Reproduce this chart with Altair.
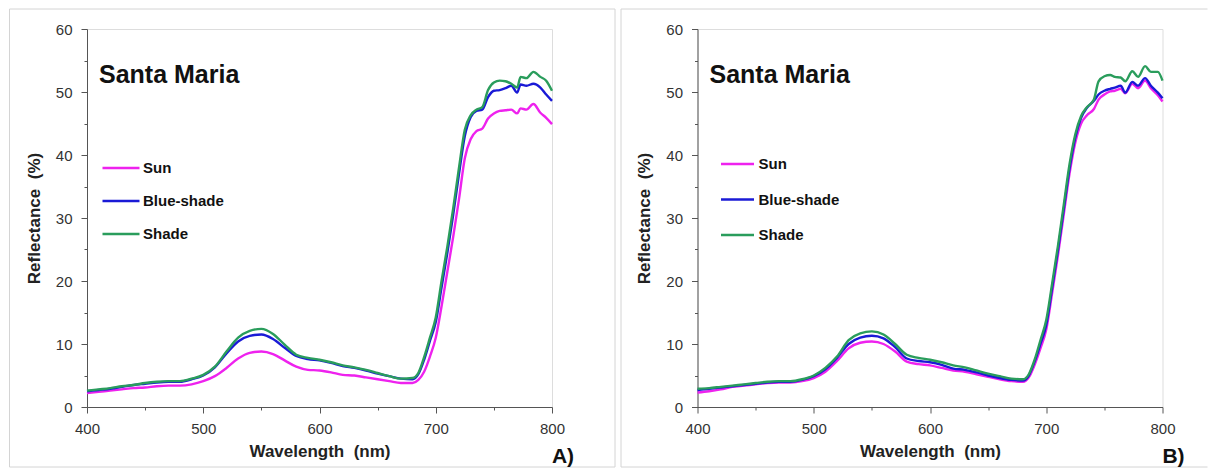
import altair as alt
import pandas as pd

FONT = "Liberation Sans"

series_names = ["Sun", "Blue-shade", "Shade"]
series_colors = ["#ee22ee", "#1a1ad6", "#2a9d5c"]

# ---- Panel A ----
wl_a = [400, 410, 420, 430, 440, 450, 460, 470, 480, 490, 500, 510, 520, 530, 540, 550,
        560, 570, 580, 590, 600, 610, 620, 630, 640, 650, 660, 670, 680, 685, 690, 695,
        700, 705, 710, 715, 720, 725, 730, 735, 740, 745, 750, 755, 760, 765, 770, 773,
        778, 784, 790, 795, 800]
sun_a = [2.2, 2.4, 2.6, 2.8, 3.0, 3.1, 3.3, 3.4, 3.4, 3.6, 4.1, 4.9, 6.2, 7.7, 8.6, 8.8,
         8.4, 7.4, 6.4, 5.9, 5.8, 5.5, 5.1, 5.0, 4.7, 4.4, 4.1, 3.8, 3.8, 4.3, 5.6, 8.0,
         11.0, 16.0, 21.5, 27.0, 33.0, 39.5, 42.5, 43.8, 44.2, 45.8, 46.6, 47.0, 47.1, 47.2, 46.6, 47.4,
         47.2, 48.1, 46.7, 45.9, 44.9]
blue_a = [2.5, 2.7, 2.9, 3.2, 3.5, 3.7, 3.9, 4.0, 4.0, 4.4, 5.0, 6.3, 8.5, 10.4, 11.3, 11.5,
          10.8, 9.4, 8.1, 7.6, 7.4, 7.0, 6.5, 6.2, 5.8, 5.3, 4.9, 4.5, 4.4, 5.2, 7.5, 10.5,
          13.5, 19.0, 24.5, 30.5, 37.0, 43.0, 46.0, 47.0, 47.2, 49.2, 50.2, 50.3, 50.6, 51.0, 49.9, 51.2,
          51.0, 51.3, 50.7, 49.6, 48.6]
shade_a = [2.6, 2.8, 3.0, 3.3, 3.5, 3.8, 4.0, 4.1, 4.1, 4.5, 5.1, 6.4, 8.8, 11.0, 12.1, 12.4,
           11.6, 9.9, 8.3, 7.8, 7.5, 7.1, 6.6, 6.3, 5.9, 5.4, 4.9, 4.5, 4.6, 5.4, 7.9, 11.0,
           14.2, 20.0, 25.5, 31.5, 38.0, 44.0, 46.3, 47.2, 47.6, 50.3, 51.5, 51.8, 51.7, 51.3, 50.7, 52.4,
           52.2, 53.2, 52.4, 51.8, 50.2]

# ---- Panel B ----
wl_b = [400, 410, 420, 430, 440, 450, 460, 470, 480, 490, 500, 510, 520, 530, 540, 550,
        560, 570, 580, 590, 600, 610, 620, 630, 640, 650, 660, 670, 680, 685, 690, 695,
        700, 705, 710, 715, 720, 725, 730, 735, 741, 745, 750, 755, 759, 764, 768, 774,
        779, 785, 790, 796, 800]
sun_b = [2.3, 2.5, 2.8, 3.2, 3.4, 3.6, 3.8, 3.9, 3.9, 4.1, 4.6, 5.6, 7.3, 9.3, 10.2, 10.4,
         10.0, 8.8, 7.2, 6.8, 6.6, 6.2, 5.8, 5.6, 5.2, 4.8, 4.4, 4.1, 4.0, 4.7, 6.7, 9.3,
         12.3, 18.0, 24.0, 30.5, 37.0, 42.0, 45.0, 46.3, 47.3, 48.8, 49.6, 50.1, 50.2, 50.5, 49.8, 51.3,
         50.6, 51.8, 50.6, 49.5, 48.5]
blue_b = [2.7, 2.9, 3.1, 3.3, 3.5, 3.7, 3.9, 4.0, 4.0, 4.3, 4.9, 6.0, 7.8, 10.0, 11.0, 11.3,
          10.9, 9.5, 7.7, 7.3, 7.1, 6.7, 6.1, 5.9, 5.5, 5.0, 4.6, 4.3, 4.2, 5.0, 7.2, 10.0,
          13.0, 18.8, 24.8, 31.3, 37.8, 42.8, 45.9, 47.5, 48.6, 49.6, 50.2, 50.5, 50.7, 51.0, 49.9, 51.6,
          51.0, 52.2, 51.0, 49.9, 49.0]
shade_b = [2.9, 3.0, 3.2, 3.4, 3.6, 3.8, 4.0, 4.1, 4.1, 4.4, 5.0, 6.2, 8.0, 10.6, 11.7, 12.0,
           11.5, 10.0, 8.3, 7.8, 7.5, 7.1, 6.6, 6.3, 5.8, 5.3, 4.9, 4.5, 4.4, 5.2, 7.5, 10.6,
           13.8, 19.5, 25.5, 32.0, 38.5, 43.3, 46.2, 47.6, 48.8, 51.7, 52.5, 52.7, 52.4, 52.3, 51.7, 53.3,
           52.4, 54.1, 53.2, 53.2, 51.8]

x_ticks = list(range(400, 801, 50))
y_ticks = list(range(0, 61, 5))
site_label = "Santa Maria"
panel_tags = ["A)", "B)"]
x_title = "Wavelength\u00a0 (nm)"
y_title = "Reflectance\u00a0 (%)"

W, H = 465, 378


def long_df(wl, sun, blue, shade):
    rows = []
    for name, vals in zip(series_names, [sun, blue, shade]):
        assert len(vals) == len(wl)
        for w, v in zip(wl, vals):
            rows.append({"wl": w, "refl": v, "series": name})
    return pd.DataFrame(rows)


def panel(df, tag, legend_x, legend_y, legend_row_pad, label_offset, sym_size, border_full):
    x_axis = alt.Axis(
        values=x_ticks,
        labelExpr="datum.value % 100 === 0 ? datum.label : ''",
        title=x_title, titleFont=FONT, titleFontSize=17, titleFontWeight="bold",
        titleColor="#222", titlePadding=7,
        labelFont=FONT, labelFontSize=15, labelColor="#333", labelPadding=8,
        labelFlush=False, labelOverlap=False,
        tickSize={"condition": {"test": "datum.value % 100 !== 0", "value": 3}, "value": 6},
        tickColor="#555", domainColor="#555", grid=False,
    )
    y_axis = alt.Axis(
        values=y_ticks,
        labelExpr="datum.value % 10 === 0 ? datum.label : ''",
        title=y_title, titleFont=FONT, titleFontSize=17, titleFontWeight="bold",
        titleColor="#222", titlePadding=12,
        labelFont=FONT, labelFontSize=15, labelColor="#333", labelPadding=9,
        labelFlush=False, labelOverlap=False,
        tickSize={"condition": {"test": "datum.value % 10 !== 0", "value": 3}, "value": 6},
        tickColor="#555", domainColor="#555", grid=False,
    )
    lines = alt.Chart(df).mark_line(strokeWidth=2.4, interpolate="monotone").encode(
        x=alt.X("wl:Q", scale=alt.Scale(domain=[400, 800], nice=False, zero=False), axis=x_axis),
        y=alt.Y("refl:Q", scale=alt.Scale(domain=[0, 60], nice=False), axis=y_axis),
        color=alt.Color(
            "series:N",
            scale=alt.Scale(domain=series_names, range=series_colors),
            legend=alt.Legend(
                title=None, orient="none", legendX=legend_x, legendY=legend_y,
                direction="vertical", symbolType="stroke", symbolSize=sym_size,
                symbolStrokeWidth=2.5, labelFont=FONT, labelFontSize=15,
                labelFontWeight="bold", labelColor="#111", labelOffset=label_offset,
                rowPadding=legend_row_pad, padding=0,
            ),
        ),
        order=alt.Order("wl:Q"),
    )
    site = alt.Chart(pd.DataFrame({"t": [site_label]})).mark_text(
        font=FONT, fontSize=25, fontWeight="bold", color="#111", align="left",
        baseline="alphabetic",
    ).encode(text="t:N", x=alt.value(12), y=alt.value(54))
    tag_txt = alt.Chart(pd.DataFrame({"t": [tag]})).mark_text(
        font=FONT, fontSize=21, fontWeight="bold", color="#111", align="center",
        baseline="alphabetic",
    ).encode(text="t:N", x=alt.value(476), y=alt.value(434))

    one = pd.DataFrame({"k": [0]})
    if border_full:
        frame = [alt.Chart(one).mark_rect(fill="white", fillOpacity=0, stroke="#d4d4d4", strokeWidth=1).encode(
            x=alt.value(-77.5), x2=alt.value(528), y=alt.value(-20), y2=alt.value(438))]
    else:
        frame = [
            alt.Chart(one).mark_rule(color="#d4d4d4", strokeWidth=1).encode(
                x=alt.value(-76.5), x2=alt.value(510), y=alt.value(-20)),
            alt.Chart(one).mark_rule(color="#d4d4d4", strokeWidth=1).encode(
                x=alt.value(-76.5), y=alt.value(-20), y2=alt.value(438)),
            alt.Chart(one).mark_rule(color="#d4d4d4", strokeWidth=1).encode(
                x=alt.value(-76.5), x2=alt.value(510), y=alt.value(438)),
        ]
    return alt.layer(*frame, lines, site, tag_txt).properties(width=W, height=H)


df_a = long_df(wl_a, sun_a, blue_a, shade_a)
df_b = long_df(wl_b, sun_b, blue_b, shade_b)

pa = panel(df_a, panel_tags[0], 14, 119, 5, 2, 1369, True)
pb = panel(df_b, panel_tags[1], 22, 117, 9.5, 3, 1089, False)

chart = alt.hconcat(pa, pb, spacing=3.5).resolve_legend(color="independent").properties(
    padding=0
).configure_view(stroke="#a0a0a0", strokeWidth=1).configure(background="white")

chart.save("out.html", embed_options={"renderer": "svg", "actions": False})
